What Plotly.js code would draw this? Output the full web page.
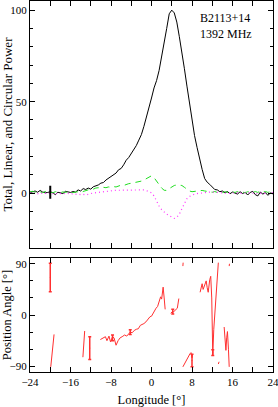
<!DOCTYPE html>
<html>
<head>
<meta charset="utf-8">
<script src="https://cdn.plot.ly/plotly-3.0.1.min.js"></script>
<style>html,body{margin:0;padding:0;background:#fff;}#chart{width:278px;height:407px;}</style>
</head>
<body>
<div id="chart"></div>
<script>
// Longitude grid (deg)
const lon = [-24,-23.5,-23,-22.5,-22,-21.5,-21,-20.5,-20,-19.5,-19,-18.5,-18,-17.5,-17,-16.5,-16,-15.5,-15,-14.5,-14,-13.5,-13,-12.5,-12,-11.5,-11,-10.5,-10,-9.5,-9,-8.5,-8,-7.5,-7,-6.5,-6,-5.5,-5,-4.5,-4,-3.5,-3,-2.5,-2,-1.5,-1,-0.5,0,0.5,1,1.5,2,2.5,3,3.5,4,4.5,5,5.5,6,6.5,7,7.5,8,8.5,9,9.5,10,10.5,11,11.5,12,12.5,13,13.5,14,14.5,15,15.5,16,16.5,17,17.5,18,18.5,19,19.5,20,20.5,21,21.5,22,22.5,23,23.5,24];
// Total power
const totalI = [0.3,0.8,1.2,0.5,1.5,0.6,0.2,0.4,0.8,0.2,-0.8,0.5,0.3,-0.2,1.0,0.8,0.4,0.9,0.6,1.8,1.2,2.5,2.0,2.8,2.2,3.5,3.8,4.5,5.5,5.8,7.2,8.2,9.0,10.2,11.0,12.8,13.5,15.5,18.0,19.5,21.5,23.5,26.0,29.0,32.0,36.5,41.5,45.5,52.0,57.5,61.5,67.0,74.0,82.0,90.0,98.0,100.0,98.5,93.5,85.5,77.5,68.0,58.5,49.0,39.5,31.5,25.0,18.5,13.0,8.0,6.0,4.8,3.5,2.0,1.8,0.8,1.2,0.2,0.9,-0.3,0.6,0.1,-0.5,0.8,-0.2,0.5,-1.0,0.4,1.0,-0.8,-1.5,0.6,-0.5,0.3,-1.2,0.2,-0.4];
// Linear power
const linearL = [0.8,1.0,0.5,1.2,0.7,0.3,0.9,0.4,0.6,0.2,0.8,0.5,0.3,0.7,0.4,0.9,0.5,0.3,0.6,0.8,0.5,0.9,1.2,1.8,2.5,2.2,2.8,3.0,2.6,3.2,3.0,3.4,3.2,3.6,3.4,4.0,4.4,4.2,4.8,5.2,5.4,5.6,6.0,6.2,6.6,7.2,8.0,8.8,9.5,8.5,6.5,4.5,2.8,1.6,1.5,2.5,3.6,4.2,4.5,4.4,4.2,3.2,2.2,1.2,0.8,1.0,1.5,1.6,1.5,1.2,0.9,0.8,0.5,0.9,0.4,0.7,0.3,0.8,0.5,0.2,0.7,0.4,0.9,0.3,0.6,0.2,0.8,0.5,0.3,0.9,0.4,1.2,0.6,0.9,0.4,0.8,0.5];
// Circular power
const circV = [0.2,-0.3,0.1,-0.4,0.3,-0.2,0.0,-0.5,0.2,-0.3,0.1,-0.6,-0.2,0.0,-0.4,-0.1,-0.5,-0.3,-0.6,-0.4,-0.8,-0.6,-1.0,-0.8,-0.2,0.1,0.3,0.5,0.7,1.0,1.2,1.4,1.5,1.5,1.6,1.6,1.6,1.7,1.7,1.8,1.8,1.9,2.0,2.0,2.0,1.8,1.4,0.8,0.2,-1.5,-4.5,-7.0,-9.0,-10.5,-11.5,-12.3,-13.0,-13.8,-13.2,-11.5,-8.5,-5.5,-3.0,-1.8,-1.0,-0.5,-0.2,0.0,0.3,0.4,0.5,0.6,0.6,0.5,0.3,0.2,0.4,0.1,0.3,-0.1,0.2,0.0,0.3,-0.2,0.1,0.2,-0.1,0.3,0.0,0.2,-0.3,0.1,0.2,-0.2,0.1,0.0,0.2];
// Error bar on total power
const errLon = [-20];
const errVal = [0.5];
const errSize = [3];

// Position angle (deg); null = gap
const paLon = [-19.9,-19.25,null,-13.55,-13.2,null,
  -10.1,-9.6,-9.1,-8.8,-8.4,-8.1,-7.7,-7.4,-7.0,-6.6,-6.2,-5.8,-5.3,-4.9,-4.5,-4.2,-3.8,-3.4,-3.0,-2.6,-2.2,-1.8,-1.5,-1.1,-0.7,-0.3,0,0.3,0.6,0.9,1.2,1.5,1.8,2.0,2.3,2.5,2.7,null,
  3.8,4.1,4.4,4.8,5.1,5.4,null,6.2,6.25,null,
  6.2,6.6,6.9,7.3,7.6,7.8,8.0,8.1,null,
  9.6,9.8,10.0,10.2,10.5,10.8,11.0,11.2,11.5,11.7,11.9,12.05,12.1,12.3,12.6,12.9,13.2,null,
  13.2,13.35,null,
  14.35,14.5,14.7,14.85,15.0,15.2,15.35,null,15.35,15.4];
const paVal = [-91,-34,null,-74,-28,null,
  -43,-40,-38,-45,-37,-47,-38,-40,-53,-45,-40,-38,-35,-37,-32,-30,-31,-27,-25,-24,-18,-17,-15,-12,-8,-3,-2,3,7,12,15,22,32,28,49,30,10,null,
  3,6,6,9,12,29,null,86,92,null,
  -91,-84,-78,-73,-68,-66,-75,-70,null,
  40,50,55,45,52,60,48,40,62,68,30,-25,-70,-25,20,60,92,null,
  -86,-82,null,
  -21,-40,-62,-40,-29,-60,-91,null,86,90];
// PA points with error bars
const paErrLon = [-20,-12.2,-7.7,-4.2,4.2,8.0,12.1];
const paErrVal = [66,-58,-40,-30,6,-80,-66];
const paErrSize = [25,20,5,4,4,11,5];

const tickFam = 'Liberation Serif, serif';
const titleFam = 'Liberation Serif, serif';
const red = '#ff3030';

const traces = [
  {x: lon, y: totalI, type: 'scatter', mode: 'lines', line: {color: '#000000', width: 1}, xaxis: 'x', yaxis: 'y'},
  {x: lon, y: linearL, type: 'scatter', mode: 'lines', line: {color: '#22dd22', width: 1, dash: '6px,5px'}, xaxis: 'x', yaxis: 'y'},
  {x: lon, y: circV, type: 'scatter', mode: 'lines', line: {color: '#ff33ff', width: 1.2, dash: '1px,3px'}, xaxis: 'x', yaxis: 'y'},
  {x: errLon, y: errVal, type: 'scatter', mode: 'markers', marker: {size: 1, color: '#000'},
   error_y: {type: 'data', array: errSize, visible: true, color: '#000', thickness: 2, width: 1}, xaxis: 'x', yaxis: 'y'},
  {x: paLon, y: paVal, type: 'scatter', mode: 'lines', connectgaps: false, line: {color: red, width: 1}, xaxis: 'x2', yaxis: 'y2'},
  {x: paErrLon, y: paErrVal, type: 'scatter', mode: 'markers', marker: {size: 1, color: red},
   error_y: {type: 'data', array: paErrSize, visible: true, color: red, thickness: 1.5, width: 1.5}, xaxis: 'x2', yaxis: 'y2'}
];

const axBase = {
  showline: true, linecolor: '#000', linewidth: 1, mirror: 'ticks',
  ticks: 'inside', tickcolor: '#000', showgrid: false, zeroline: false,
  ticklabeloverflow: 'allow',
  tickfont: {family: tickFam, size: 11, color: '#000'}
};

const layout = {
  width: 278, height: 407,
  margin: {l: 30, r: 5, t: 1, b: 35},
  paper_bgcolor: '#fff', plot_bgcolor: '#fff',
  showlegend: false,
  font: {family: titleFam, size: 12, color: '#000'},
  xaxis: Object.assign({}, axBase, {anchor: 'y', domain: [0, 1], range: [-24, 24], dtick: 8, tick0: 0, ticklen: 5, showticklabels: false,
    minor: {dtick: 4, ticklen: 5, ticks: 'inside', tickcolor: '#000'}}),
  yaxis: Object.assign({}, axBase, {anchor: 'x', domain: [0.334, 1], range: [-30, 105], dtick: 50, tick0: 0, ticklen: 5,
    minor: {dtick: 10, ticklen: 3, ticks: 'inside', tickcolor: '#000'},
    title: {text: 'Total, Linear, and Circular Power', font: {family: titleFam, size: 13}, standoff: 3}}),
  xaxis2: Object.assign({}, axBase, {anchor: 'y2', domain: [0, 1], range: [-24, 24], dtick: 8, tick0: 0, ticklen: 5,
    minor: {dtick: 4, ticklen: 5, ticks: 'inside', tickcolor: '#000'},
    title: {text: 'Longitude [°]', font: {family: titleFam, size: 12.5}, standoff: 9}}),
  yaxis2: Object.assign({}, axBase, {anchor: 'x2', domain: [0, 0.307], range: [-100, 100], dtick: 90, tick0: 0, ticklen: 5,
    minor: {dtick: 30, ticklen: 3, ticks: 'inside', tickcolor: '#000'},
    title: {text: 'Position Angle [°]', font: {family: titleFam, size: 12.5}, standoff: 3}}),
  annotations: [
    {text: 'B2113+14', xref: 'paper', yref: 'paper', x: 0.69, y: 0.953, xanchor: 'left', yanchor: 'middle', showarrow: false, font: {family: titleFam, size: 12, color: '#000'}},
    {text: '1392 MHz', xref: 'paper', yref: 'paper', x: 0.69, y: 0.91, xanchor: 'left', yanchor: 'middle', showarrow: false, font: {family: titleFam, size: 12, color: '#000'}}
  ]
};

Plotly.newPlot('chart', traces, layout, {displayModeBar: false, staticPlot: true});
</script>
</body>
</html>
